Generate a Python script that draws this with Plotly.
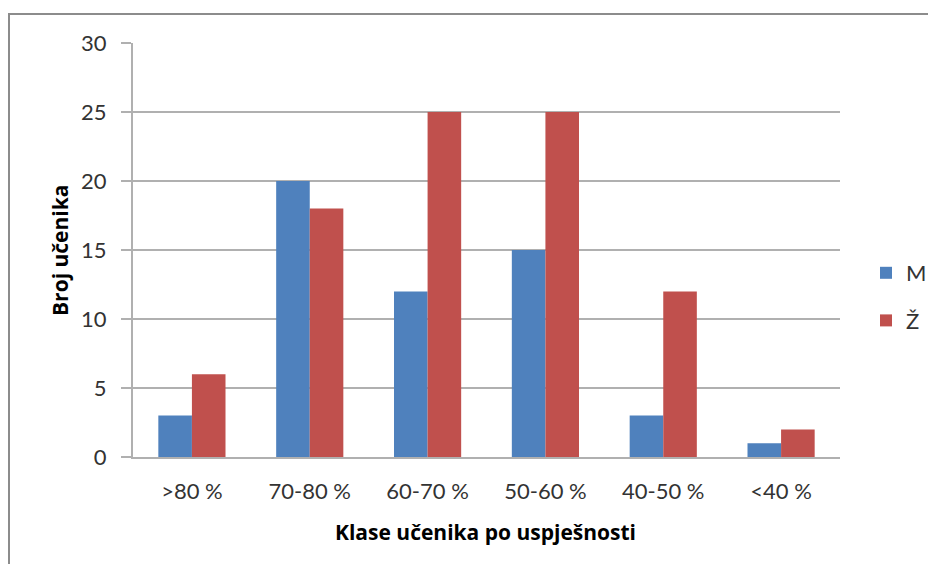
import plotly.graph_objects as go

categories = [">80 %", "70-80 %", "60-70 %", "50-60 %", "40-50 %", "<40 %"]
m_values = [3, 20, 12, 15, 3, 1]
z_values = [6, 18, 25, 25, 12, 2]
y_ticks = [0, 5, 10, 15, 20, 25, 30]

OFF = 8  # page body margin in the browser
W, H = 936 - 2 * OFF, 572 - 2 * OFF
L, R, T, B = 133 - OFF, 840 - OFF, 43 - OFF, 457 - OFF

fig = go.Figure()
fig.add_trace(go.Bar(name="M", x=categories, y=m_values, legendgroup="m",
                     marker=dict(color="#4F81BD", line_width=0)))
fig.add_trace(go.Bar(name="Ž", x=categories, y=z_values, legendgroup="z",
                     marker=dict(color="#C0504D", line_width=0)))

font = "Lato, 'Open Sans', sans-serif"
title_font = dict(family="'Open Sans', sans-serif", size=21, color="#000000")
grid = "#b0b0b0"
pw, ph = R - L, B - T

def px(x):
    return (x - OFF - L) / pw

def py(y):
    return (B - (y - OFF)) / ph

fig.update_layout(
    width=W, height=H,
    margin=dict(l=L, r=W - R, t=T, b=H - B, autoexpand=False),
    paper_bgcolor="white", plot_bgcolor="white",
    barmode="group", bargap=0.43, bargroupgap=0,
    font=dict(family=font, size=22, color="#333333"),
    xaxis=dict(
        showline=True, linecolor=grid, linewidth=2,
        ticks="", tickfont=dict(size=22, color="#333333"),
        ticklabelstandoff=14,
        showgrid=False,
    ),
    yaxis=dict(
        range=[0, 30], tickvals=y_ticks,
        showline=True, linecolor=grid, linewidth=2,
        ticks="outside", ticklen=10, tickcolor=grid, tickwidth=2,
        showgrid=True, gridcolor=grid, gridwidth=2,
        zeroline=False,
        tickfont=dict(size=22, color="#333333"),
        ticklabelstandoff=10,
    ),
    legend=dict(
        x=px(866), y=py(252), xanchor="left", yanchor="top",
        font=dict(size=22, color="#333333"),
        itemwidth=30, tracegroupgap=16, bgcolor="rgba(0,0,0,0)",
    ),
    annotations=[
        dict(text="<b>Klase učenika po uspješnosti</b>", xref="paper", yref="paper",
             x=px(485), y=py(532), xanchor="center", yanchor="middle",
             showarrow=False, font=title_font),
        dict(text="<b>Broj učenika</b>", xref="paper", yref="paper",
             x=px(60), y=py(251), xanchor="center", yanchor="middle",
             textangle=-90, showarrow=False, font=title_font),
    ],
    shapes=[dict(
        type="rect", xref="paper", yref="paper",
        x0=px(9), x1=px(960), y0=py(14), y1=py(600),
        line=dict(color="#8c8c8c", width=2), layer="below",
    )],
)

fig.write_html("out.html")
